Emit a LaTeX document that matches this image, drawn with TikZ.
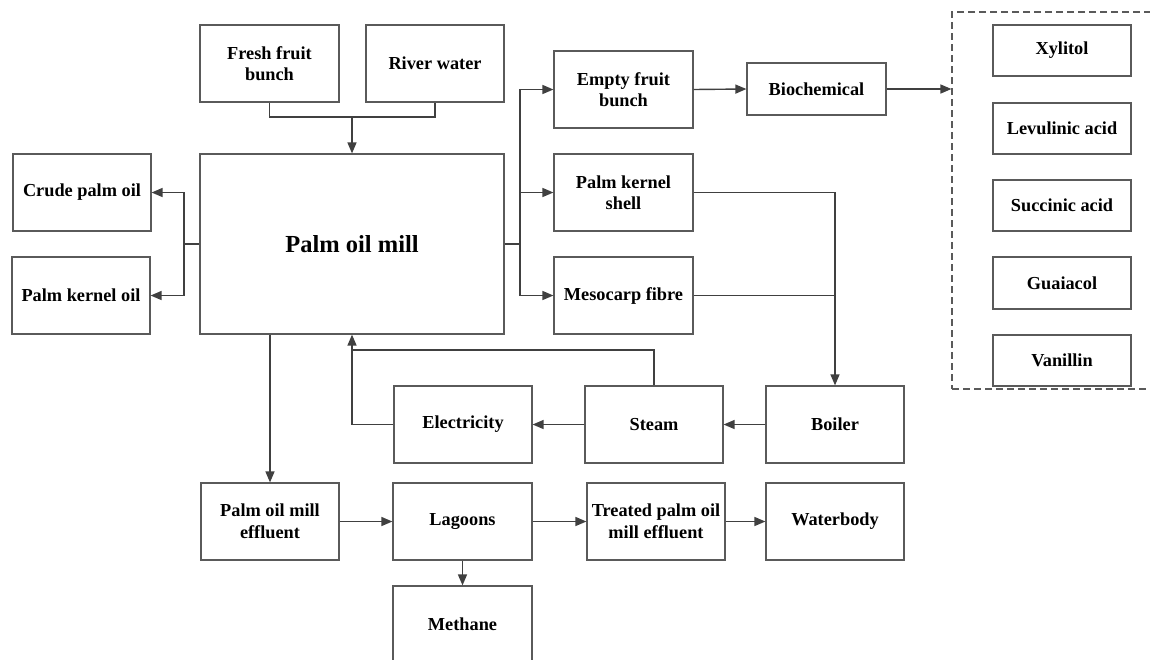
\documentclass[tikz,border=0pt]{standalone}
\usepackage{fontspec}
\setmainfont{Liberation Serif}
\usetikzlibrary{arrows.meta}
\definecolor{boxc}{HTML}{5A5A5A}
\definecolor{linec}{HTML}{404040}
\tikzset{
  box/.style={draw=boxc, line width=1.2pt, minimum width=138pt, minimum height=77pt, align=center, inner sep=0pt,
    font=\fontsize{18.3}{21.5}\selectfont\bfseries},
  conn/.style={draw=linec, line width=1.4pt},
  arr/.style={conn, -{Triangle[length=11pt,width=9pt]}},
}
\begin{document}
\begin{tikzpicture}[x=1pt,y=-1pt]
\useasboundingbox (0,0) rectangle (1150,659);
\clip (0,0) rectangle (1150,659);
\fill[white] (0,0) rectangle (1150,659);
% nodes
\node[box, minimum width=139pt] (ffb) at (269.5,63.5) {Fresh fruit\\bunch};
\node[box] (rw) at (435,63.5) {River water};
\node[box, minimum width=304pt, minimum height=180pt, font=\fontsize{24.5}{28}\selectfont\bfseries] (mill) at (352,244) {Palm oil mill};
\node[box] (cpo) at (82,192.5) {Crude palm oil};
\node[box] (pko) at (81,295.5) {Palm kernel oil};
\node[box, minimum width=139pt] (efb) at (623.5,89.5) {Empty fruit\\bunch};
\node[box, minimum width=139pt, minimum height=52pt] (bio) at (816.5,89) {Biochemical};
\node[box, minimum width=139pt] (pks) at (623.5,192.5) {Palm kernel\\shell};
\node[box, minimum width=139pt] (mf) at (623.5,295.5) {Mesocarp fibre};
\node[draw=boxc, line width=1.1pt, dash pattern=on 7pt off 4pt, minimum width=208pt, minimum height=377pt, inner sep=0pt] (grp) at (1056,200.5) {};
\node[box, minimum height=51pt] (xyl) at (1062,50.5) {Xylitol};
\node[box, minimum height=51pt] (lev) at (1062,128.5) {Levulinic acid};
\node[box, minimum height=51pt] (suc) at (1062,205.5) {Succinic acid};
\node[box, minimum height=52pt] (gua) at (1062,283) {Guaiacol};
\node[box, minimum height=51pt] (van) at (1062,360.5) {Vanillin};
\node[box] (elec) at (463,424.5) {Electricity};
\node[box] (steam) at (654,424.5) {Steam};
\node[box] (boiler) at (835,424.5) {Boiler};
\node[box] (pme) at (270,521.5) {Palm oil mill\\effluent};
\node[box, minimum width=139pt] (lag) at (462.5,521.5) {Lagoons};
\node[box] (tpome) at (656,521.5) {Treated palm oil\\mill effluent};
\node[box] (wb) at (835,521.5) {Waterbody};
\node[box, minimum width=139pt] (meth) at (462.5,624.5) {Methane};
% junctions
\coordinate (jt) at (352,117);
\coordinate (jl) at (184,244);
\coordinate (jr) at (520,244);
\coordinate (fb) at (352,350);
% connectors
\draw[conn] (ffb.south) |- (jt) -| (rw.south);
\draw[arr] (jt) -- (mill.north);
\draw[conn] (mill.west) -- (jl);
\draw[arr] (jl) |- (cpo.east);
\draw[arr] (jl) |- (pko.east);
\draw[conn] (mill.east) -- (jr);
\draw[arr] (jr) |- (efb.west);
\draw[arr] (jr) |- (pks.west);
\draw[arr] (jr) |- (mf.west);
\draw[arr] (efb.east) -- (bio.west);
\draw[arr] (bio.east) -- (grp.west |- bio.east);
\draw[arr] (pks.east) -| (boiler.north);
\draw[conn] (mf.east) -- (mf.east -| boiler.north);
\draw[arr] (boiler.west) -- (steam.east);
\draw[arr] (steam.west) -- (elec.east);
\draw[arr] (elec.west) -| (mill.south);
\draw[conn] (steam.north) |- (fb);
\draw[arr] (mill.south -| pme.north) -- (pme.north);
\draw[arr] (pme.east) -- (lag.west);
\draw[arr] (lag.east) -- (tpome.west);
\draw[arr] (tpome.east) -- (wb.west);
\draw[arr] (lag.south) -- (meth.north);
\end{tikzpicture}
\end{document}
